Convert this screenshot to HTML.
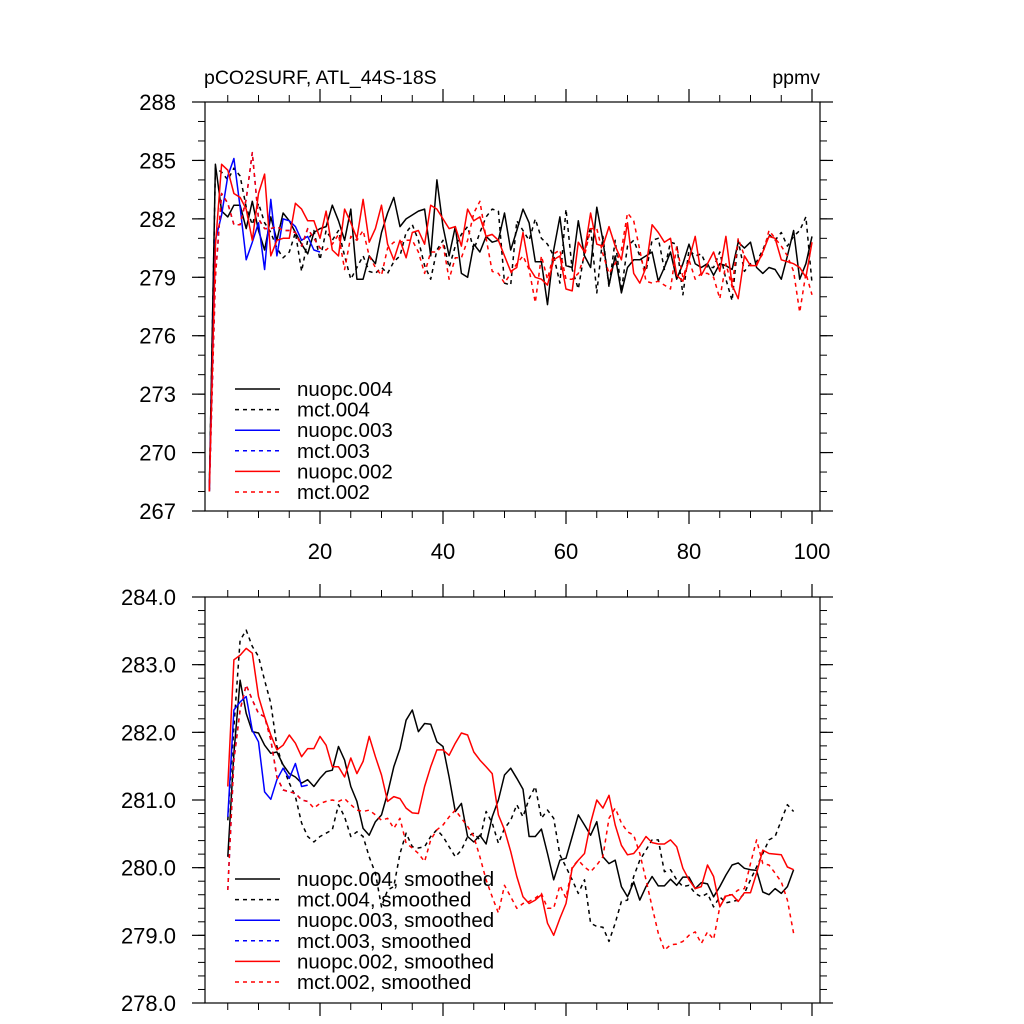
<!DOCTYPE html>
<html><head><meta charset="utf-8"><style>
html,body{margin:0;padding:0;background:#fff;}
svg{display:block;font-family:"Liberation Sans",sans-serif;}
</style></head><body>
<svg id="chart" width="1024" height="1024" viewBox="0 0 1024 1024">
<g id="top"></g>
<g id="bot"></g>
</svg>
<script>
// ---------- data ----------
const topNuopc004 = [268,284.8,282.4,282.1,282.7,282.7,281.5,282.9,281.4,280.4,282.1,280.9,282.3,281.9,281.3,280.7,280.2,281.3,281.5,281.6,282.7,281.9,280.9,282.5,278.9,278.9,280.1,279.7,281.3,282.3,283.1,281.6,282.0,282.2,282.4,282.5,280.1,284.0,281.6,280.1,281.6,279.2,279.0,280.7,280.3,281.1,280.8,
280.9,282.3,280.4,281.4,282.5,281.8,279.8,279.8,277.6,280.4,282.1,279.6,279.5,281.9,280.1,279.5,282.6,280.9,278.6,280.1,278.2,279.5,279.9,279.9,280.1,280.3,278.8,279.5,280.3,278.9,279.7,280.7,279.7,279.5,279.7,279.1,279.7,279.6,279.4,280.8,280.5,280.8,279.5,279.2,279.5,279.4,278.9,280.1,281.4,278.9,279.7,281.1];
const topMct004 = [268,284.6,284.4,284.0,284.6,284.2,282.6,281.7,282.8,281.8,281.3,280.5,280.0,280.3,281.3,279.3,280.9,281.4,279.9,281.4,280.9,281.4,280.1,278.9,279.5,280.1,279.3,279.2,279.5,279.2,279.8,280.1,281.3,281.7,280.9,279.6,278.9,280.4,280.9,279.5,280.6,281.2,281.6,280.4,281.3,282.1,282.5,
282.4,278.7,278.6,281.9,281.4,280.9,282.0,281.0,280.7,280.1,278.7,282.5,279.4,278.4,280.3,281.6,278.2,281.1,278.5,280.9,278.3,280.6,280.9,280.1,279.3,280.9,281.0,279.4,280.8,280.7,278.1,280.4,280.1,280.2,279.5,279.5,280.3,278.9,277.8,280.9,279.3,279.7,279.8,280.4,281.2,280.9,281.3,280.6,281.1,281.4,282.1,278.7];
const topNuopc003 = [268,280.9,282.2,284.2,285.1,282.6,279.9,280.8,281.8,279.4,283.0,280.1,282.0,281.9,281.6,280.9,281.1,280.4,280.3];
const topMct003 = [268,279,283.3,282.8,281.7,281.7,283.0,285.4,282.0,281.5,281.5,281.6,281.4,281.4,281.3,280.6,281.5,281.0,280.5];
const topNuopc002 = [268,280.6,284.8,284.5,283.3,283.1,282.5,280.9,283.3,284.3,280.1,280.9,281.0,281.0,282.8,282.5,281.9,281.9,281.0,282.4,280.4,280.1,282.5,281.8,281.0,283.0,280.8,281.5,282.7,280.7,279.9,280.9,280.0,281.3,281.4,280.7,282.7,282.5,282.0,281.5,281.6,280.6,282.5,281.9,282.1,281.1,281.2,
280.9,280.1,279.3,279.5,281.3,279.5,279.0,278.9,278.6,279.9,280.1,278.4,278.3,280.8,280.3,282.3,280.7,280.6,281.6,280.6,279.9,281.8,279.2,278.7,279.5,281.7,281.3,280.8,281.0,279.1,278.8,279.9,281.1,279.1,279.7,280.3,279.3,281.1,278.6,277.9,280.1,279.6,279.6,280.3,281.1,281.0,279.9,279.8,279.7,279.5,279.0,280.8];
const topMct002 = [268,279,283.3,282.8,281.7,281.7,283.0,285.4,282.0,281.5,281.5,281.6,281.4,281.4,281.3,280.6,281.5,281.0,280.5,280.4,280.7,281.2,279.4,281.1,280.9,281.4,280.1,279.5,279.1,280.5,280.8,280.8,280.9,280.9,280.3,279.2,280.3,280.3,280.7,278.9,280.0,280.0,280.9,282.3,282.9,281.0,279.3,
279.2,278.7,279.2,279.7,280.1,279.4,277.7,280.1,278.9,280.2,280.4,278.9,278.9,279.2,280.1,281.5,281.5,280.2,279.2,279.7,280.4,282.3,281.9,280.4,278.8,278.7,278.8,278.6,278.4,280.6,279.0,279.9,278.9,279.2,279.2,279.0,277.9,279.7,278.5,281.0,280.1,279.6,279.7,280.2,281.4,281.0,280.6,280.1,279.3,277.2,279.2,278.1];
const topStart = 2;

const botNuopc004 = [280.16,281.69,282.77,282.28,282.01,281.99,281.81,281.69,281.71,281.52,281.39,281.34,281.25,281.30,281.20,281.32,281.42,281.44,281.79,281.59,281.20,280.98,280.58,280.48,280.68,280.78,281.10,281.49,281.76,282.18,282.33,282.01,282.13,282.12,281.86,281.79,281.34,280.83,280.95,280.46,280.38,280.48,280.35,280.75,
281.0,281.37,281.47,281.32,281.16,280.46,280.46,280.57,280.21,279.82,280.11,280.14,280.46,280.78,280.63,280.48,280.68,280.16,280.06,280.11,279.72,279.57,279.79,279.52,279.72,279.87,279.73,279.73,279.83,279.74,279.86,279.86,279.69,279.78,279.76,279.57,279.72,279.89,280.04,280.07,279.99,279.97,279.96,279.64,279.60,279.69,279.62,279.72,279.97];
const botMct004 = [280.70,282.08,283.36,283.51,283.27,283.12,282.77,282.43,281.79,281.49,281.25,281.05,280.66,280.46,280.38,280.46,280.51,280.56,280.93,280.75,280.46,280.53,280.46,280.16,279.92,279.42,279.67,279.72,280.21,280.51,280.31,280.29,280.31,280.46,280.56,280.46,280.31,280.16,280.26,280.46,280.51,280.41,280.83,280.66,
280.36,280.58,280.70,280.93,280.75,281.02,281.20,280.73,280.85,280.73,280.19,280.01,279.82,279.62,279.82,279.18,279.13,279.12,278.91,279.18,279.50,279.52,279.87,280.11,280.26,280.41,280.41,279.94,279.97,279.82,279.72,279.74,279.62,279.57,279.62,279.42,279.57,279.48,279.50,279.52,279.62,279.82,280.01,280.21,280.41,280.46,280.70,280.93,280.83];
const botNuopc003 = [280.75,282.33,282.45,282.53,282.03,281.86,281.12,281.01,281.30,281.47,281.32,281.54,281.20,281.22];
const botMct003 = [279.67,281.59,282.33,282.70,282.48,282.28,282.23,281.89,281.34,281.15,281.12,281.10,281.0,280.98];
const botNuopc002 = [281.20,283.07,283.14,283.24,283.17,282.53,282.23,281.96,281.74,281.81,281.96,281.84,281.64,281.76,281.76,281.94,281.81,281.49,281.49,281.34,281.62,281.39,281.57,281.94,281.64,281.37,280.98,281.05,281.02,280.88,280.81,280.80,281.20,281.49,281.74,281.74,281.66,281.84,281.99,281.96,281.71,281.59,281.49,281.39,
280.78,280.56,280.24,279.87,279.57,279.47,279.52,279.60,279.18,279.00,279.25,279.47,279.99,280.11,280.21,280.66,281.0,280.88,281.07,280.63,280.33,280.19,280.21,280.32,280.46,280.37,280.35,280.35,280.41,280.31,279.99,279.82,279.69,279.72,280.04,279.87,279.42,279.58,279.60,279.50,279.63,279.63,279.92,280.26,280.21,280.20,280.19,280.01,279.97];
const botMct002 = [279.67,281.59,282.33,282.70,282.48,282.28,282.23,281.89,281.34,281.15,281.12,281.10,281.0,280.98,280.88,280.95,280.98,281.0,280.98,281.02,280.93,280.85,280.83,280.85,280.78,280.70,280.73,280.58,280.73,280.36,280.29,280.21,280.09,280.41,280.56,280.63,280.75,280.85,280.73,280.61,280.46,280.16,279.82,279.57,
279.33,279.74,279.57,279.40,279.47,279.50,279.55,279.62,279.40,279.40,279.74,279.55,280.01,280.11,280.01,279.94,280.04,280.16,280.73,280.88,280.66,280.53,280.48,280.21,279.82,279.42,279.03,278.78,278.86,278.87,278.91,279.00,279.05,278.88,279.05,278.94,279.42,279.60,279.60,279.67,279.69,280.06,280.41,280.06,280.04,279.92,279.79,279.52,279.03];
const botStart = 5;

const xTicks = [20,40,60,80,100];
const topYTicks = [267,270,273,276,279,282,285,288];
const botYTicks = [278.0,279.0,280.0,281.0,282.0,283.0,284.0];
const topLegendLabels = ["nuopc.004","mct.004","nuopc.003","mct.003","nuopc.002","mct.002"];
const botLegendLabels = ["nuopc.004, smoothed","mct.004, smoothed","nuopc.003, smoothed","mct.003, smoothed","nuopc.002, smoothed","mct.002, smoothed"];

// ---------- drawing ----------
const NS = "http://www.w3.org/2000/svg";
const L = 205, R = 820;
const xs = v => 197 + 6.15 * v;
function mk(parent, tag, attrs){ const e=document.createElementNS(NS,tag); for(const k in attrs) e.setAttribute(k,attrs[k]); parent.appendChild(e); return e; }

const styles = [
  {c:"#000",d:""},{c:"#000",d:"4 4"},{c:"#0000ff",d:""},{c:"#0000ff",d:"4 4"},{c:"#ff0000",d:""},{c:"#ff0000",d:"4 4"}
];

function panel(g, T, B, ymin, ymax, yticks, minorStep, fmt, series, start, labels, legY, xlabels, seriesNames, prefix){
  const ys = v => B - (v - ymin) / (ymax - ymin) * (B - T);
  const order=[1,0,2,3,5,4];
  order.forEach(k=>{
    const arr=series[k]; if(!arr) return;
    const pts=arr.map((v,i)=>(xs(start+i)).toFixed(1)+","+ys(v).toFixed(1)).join(" ");
    const p=mk(g,"polyline",{points:pts,fill:"none",stroke:styles[k].c,"stroke-width":1.5,"stroke-dasharray":styles[k].d,"stroke-linejoin":"round"});
    
    
  });
  const f=mk(g,"rect",{x:L,y:T,width:R-L,height:B-T,fill:"none",stroke:"#000","stroke-width":1.2});
  
  
  for(let v=ymin; v<=ymax+1e-6; v+=minorStep){
    const y=ys(v);
    mk(g,"line",{x1:L-7,x2:L,y1:y,y2:y,stroke:"#000","stroke-width":1});
    mk(g,"line",{x1:R,x2:R+7,y1:y,y2:y,stroke:"#000","stroke-width":1});
  }
  yticks.forEach(v=>{
    const y=ys(v);
    mk(g,"line",{x1:L-13,x2:L,y1:y,y2:y,stroke:"#000","stroke-width":1.2});
    mk(g,"line",{x1:R,x2:R+13,y1:y,y2:y,stroke:"#000","stroke-width":1.2});
    const t=mk(g,"text",{x:176,y:y+8,"text-anchor":"end","font-size":22});
    t.textContent=fmt(v);
    
    
  });
  for(let v=5; v<=100; v+=5){
    const x=xs(v);
    mk(g,"line",{x1:x,x2:x,y1:T-7,y2:T,stroke:"#000","stroke-width":1});
    mk(g,"line",{x1:x,x2:x,y1:B,y2:B+7,stroke:"#000","stroke-width":1});
  }
  xTicks.forEach(v=>{
    const x=xs(v);
    mk(g,"line",{x1:x,x2:x,y1:T-13,y2:T,stroke:"#000","stroke-width":1.2});
    mk(g,"line",{x1:x,x2:x,y1:B,y2:B+13,stroke:"#000","stroke-width":1.2});
    if(xlabels){
      const t=mk(g,"text",{x:x,y:B+48,"text-anchor":"middle","font-size":22});
      t.textContent=v;
      
      
    }
  });
  labels.forEach((lab,k)=>{
    const y=legY+k*20.6;
    const lg=mk(g,"g",{});
    
    
    mk(lg,"line",{x1:235,x2:280,y1:y,y2:y,stroke:styles[k].c,"stroke-width":1.5,"stroke-dasharray":styles[k].d});
    const t=mk(lg,"text",{x:297,y:y+7,"font-size":20.5});
    t.textContent=lab;
  });
}

const names=["nuopc004","mct004","nuopc003","mct003","nuopc002","mct002"];
panel(document.getElementById("top"),102,511,267,288,topYTicks,1,v=>String(v),
  [topNuopc004,topMct004,topNuopc003,topMct003,topNuopc002,topMct002],topStart,topLegendLabels,389,true,names,"top");
panel(document.getElementById("bot"),597,1003,278,284,botYTicks,0.2,v=>v.toFixed(1),
  [botNuopc004,botMct004,botNuopc003,botMct003,botNuopc002,botMct002],botStart,botLegendLabels,879,false,names,"bottom");

const svg=document.getElementById("chart");
const t1=mk(svg,"text",{x:204,y:84,"font-size":19.5});
t1.textContent="pCO2SURF, ATL_44S-18S";


const t2=mk(svg,"text",{x:820,y:84,"font-size":19.5,"text-anchor":"end"});
t2.textContent="ppmv";


</script>
</body></html>
